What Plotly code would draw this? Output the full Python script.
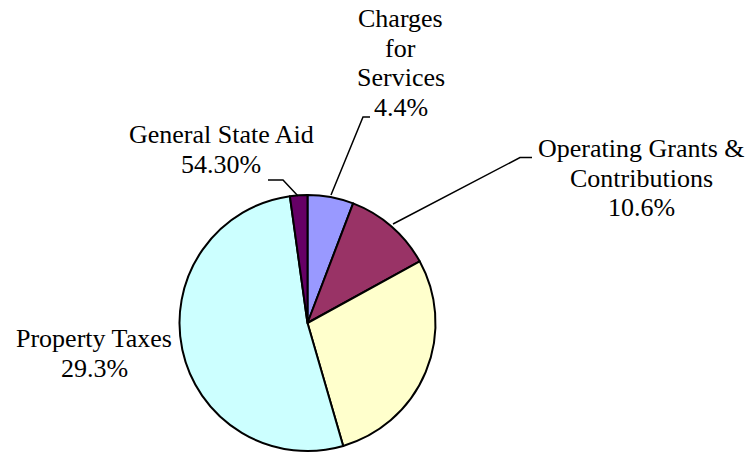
import plotly.graph_objects as go

# Data (slice sizes, clockwise from 12 o'clock)
categories = ["Charges for Services", "Operating Grants & Contributions",
              "Yellow", "Cyan", "Purple"]
values = [5.8, 11.2, 28.5, 52.3, 2.2]
colors = ["#9999FF", "#993366", "#FFFFCC", "#CCFFFF", "#660066"]

# Label texts as shown in the picture
label_lines = {
    "charges": ["Charges", "for", "Services", "4.4%"],
    "operating": ["Operating Grants &", "Contributions", "10.6%"],
    "state": ["General State Aid", "54.30%"],
    "property": ["Property Taxes", "29.3%"],
}

W, H = 749, 456

def px(x):
    return x / W

def py(y):
    return 1 - y / H

cx, cy, r = 307.5, 323, 128

fig = go.Figure(go.Pie(
    labels=categories,
    values=values,
    sort=False,
    direction="clockwise",
    rotation=0,
    marker=dict(colors=colors, line=dict(color="black", width=2)),
    textinfo="none",
    hoverinfo="label+percent",
    domain=dict(x=[px(cx - r), px(cx + r)], y=[py(cy + r), py(cy - r)]),
))

FONT = dict(family="Liberation Serif", size=26, color="black")
LS = 29.7  # line spacing in px

annotations = []

def add_label(lines, xc, first_baseline):
    for i, t in enumerate(lines):
        b = first_baseline + i * LS
        annotations.append(dict(
            text=t, x=px(xc), y=py(b - 8.5), xref="paper", yref="paper",
            xanchor="center", yanchor="middle", showarrow=False, font=FONT))

add_label(label_lines["charges"], 400.5, 27)
add_label(label_lines["operating"], 641.5, 157)
add_label(label_lines["state"], 221, 143)
add_label(label_lines["property"], 94.5, 347)

shapes = []

def polyline(pts):
    path = "M " + " L ".join(f"{px(x)},{py(y)}" for x, y in pts)
    shapes.append(dict(type="path", path=path, xref="paper", yref="paper",
                       line=dict(color="black", width=1.5)))

polyline([(370, 117), (363, 117), (331, 195)])
polyline([(532, 157.5), (520, 157.5), (393, 224)])
polyline([(268, 180), (283, 180), (298, 196)])

fig.update_layout(
    width=W, height=H,
    margin=dict(l=0, r=0, t=0, b=0),
    paper_bgcolor="white", plot_bgcolor="white",
    showlegend=False,
    annotations=annotations,
    shapes=shapes,
    font=FONT,
)

fig.write_html("out.html", config={"displayModeBar": False},
               post_script="document.body.style.margin='0';")
